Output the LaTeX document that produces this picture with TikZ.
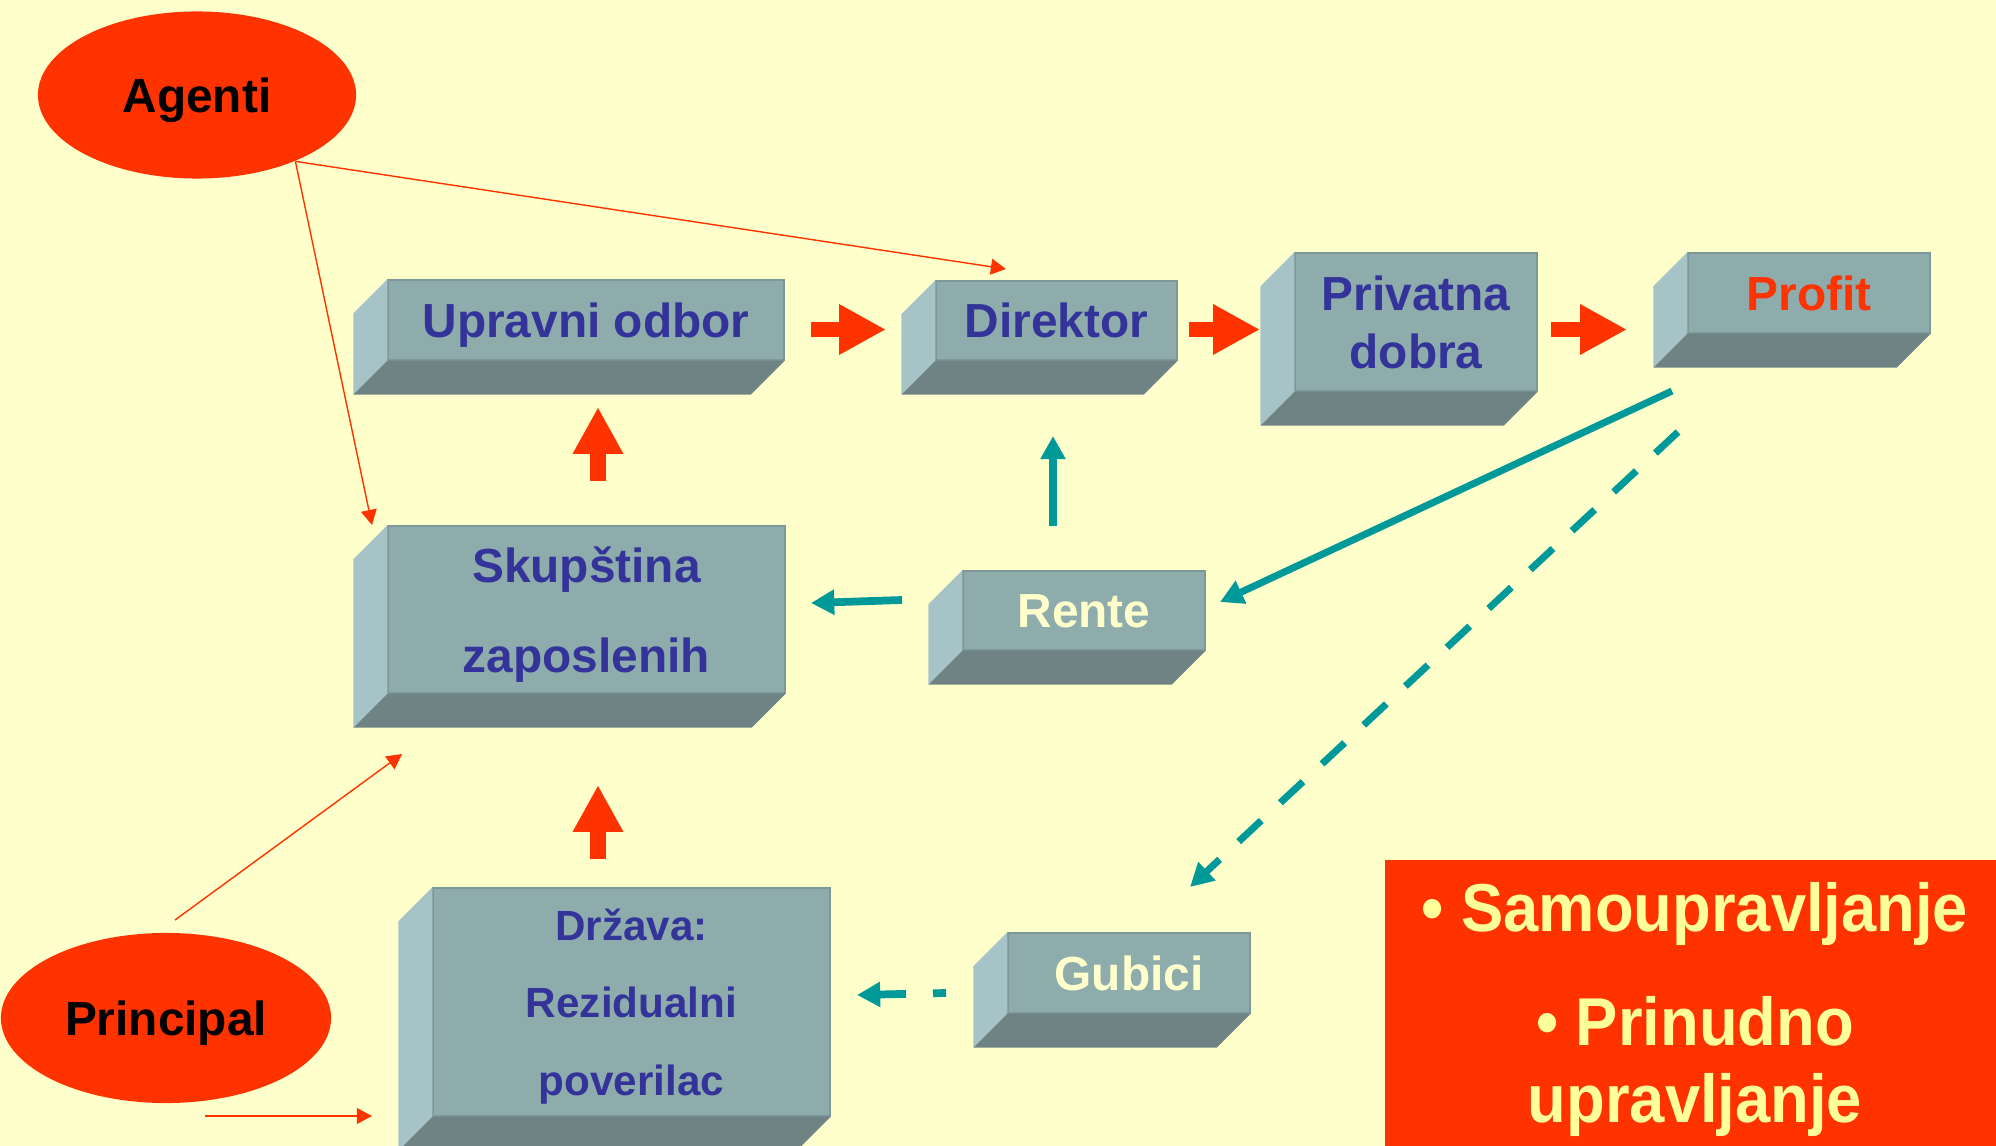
\documentclass[tikz,border=0pt]{standalone}
\usepackage{fontspec}
\setmainfont{Liberation Sans}
\usetikzlibrary{arrows.meta,shapes.geometric,calc}

\definecolor{bg}{HTML}{FFFFCC}
\definecolor{hot}{HTML}{FF3300}
\definecolor{tealline}{HTML}{009999}
\definecolor{faceF}{HTML}{8FACAD}
\definecolor{faceS}{HTML}{A6C4C8}
\definecolor{faceB}{HTML}{6F8385}
\definecolor{navytxt}{HTML}{333399}
\definecolor{creamtxt}{HTML}{FFFFCC}
\definecolor{paletxt}{HTML}{FFFF99}

\tikzset{
  frontface/.style={fill=faceF, draw=faceF!88!black, line width=0.4pt, inner sep=0pt,
    align=center, text=navytxt, font=\fontsize{13.6}{16.5}\selectfont\bfseries},
  oneline/.style={text height=9.7pt, text depth=0pt},
  sideface/.style={fill=faceS},
  bottomface/.style={fill=faceB},
  oval/.style={ellipse, fill=hot, inner sep=0pt, text=black, text height=9.7pt, text depth=0pt,
    font=\fontsize{13.6}{16}\selectfont\bfseries},
  fatarrow/.style={hot, line width=4.27pt, -{Triangle[length=13.3pt, width=13.4pt]}},
  tealarrow/.style={tealline, line width=2.2pt, -{Triangle[length=6.6pt, width=6.8pt]}},
  thinarrow/.style={hot, line width=0.4pt, -{Triangle[length=4.3pt, width=4.5pt]}},
  paneltext/.style={anchor=base, text=paletxt, inner sep=0pt,
    font=\fontsize{18}{20}\selectfont\bfseries},
}

% #1 name, #2 left, #3 top, #4 right, #5 bottom, #6 extra node options, #7 text
\newcommand\slab[7]{%
  \node[frontface, minimum width={(#4-#2)*0.01cm}, minimum height={(#5-#3)*0.01cm}, #6]
    (#1) at ({(#2+#4)/2},{(#3+#5)/2}) {#7};
  \fill[sideface] (#1.north west) -- ++(-34,34) -- ([shift={(-34,34)}]#1.south west)
    -- (#1.south west) -- cycle;
  \fill[bottomface] (#1.south west) -- ++(-34,34) -- ([shift={(-34,34)}]#1.south east)
    -- (#1.south east) -- cycle;
}

\begin{document}
\begin{tikzpicture}[x=0.01cm, y=-0.01cm]
  \useasboundingbox[fill=bg] (0,0) rectangle (1996,1146);

  % blocks
  \slab{upr}{388}{280}{784}{360}{oneline}{Upravni odbor}
  \slab{dir}{936}{281}{1177}{360}{oneline}{Direktor}
  \slab{priv}{1295}{253}{1537}{391}{}{Privatna\\dobra}
  \slab{prof}{1688}{253}{1930}{333}{oneline, text=hot}{Profit}
  \slab{skup}{388}{526}{785}{693}{text depth=0pt, font=\fontsize{13.6}{25.6}\selectfont\bfseries}{Skupština\\zaposlenih}
  \slab{rente}{963}{571}{1205}{650}{oneline, text=creamtxt}{Rente}
  \slab{drz}{433}{888}{830}{1116}{text depth=0pt, font=\fontsize{12}{22}\selectfont\bfseries}{Država:\\Rezidualni\\poverilac}
  \slab{gub}{1008}{933}{1250}{1013}{oneline, text=creamtxt}{Gubici}

  % actors
  \node[oval, minimum width=3.18cm, minimum height=1.67cm] (agenti) at (197,95) {Agenti};
  \node[oval, minimum width=3.30cm, minimum height=1.70cm] (principal) at (166,1018) {Principal};

  % governance panel
  \node[fill=hot, anchor=north west, inner sep=0pt, minimum width=6.12cm, minimum height=2.87cm]
    (panel) at (1384,859) {};
  \node[paneltext] (p1) at (1695,931) {\scalebox{1}[1.07]{• Samoupravljanje}};
  \node[paneltext] (p2) at (1695,1045) {\scalebox{1}[1.07]{• Prinudno}};
  \node[paneltext] (p3) at (1695,1122) {\scalebox{1}[1.07]{upravljanje}};

  % end points of the connectors
  \coordinate (f1a) at (811,329.5);  \coordinate (f1b) at (886,329.5);
  \coordinate (f2a) at (1189,329.5); \coordinate (f2b) at (1260,329.5);
  \coordinate (f3a) at (1551,329.5); \coordinate (f3b) at (1627,329.5);
  \coordinate (u1a) at (598,481);    \coordinate (u1b) at (598,407);
  \coordinate (u2a) at (598,859);    \coordinate (u2b) at (598,785);
  \coordinate (tua) at (1053,526);   \coordinate (tub) at (1053,436);
  \coordinate (tla) at (902,600);    \coordinate (tlb) at (811,603);
  \coordinate (tda) at (1672,391);   \coordinate (tdb) at (1220,602);
  \coordinate (tsa) at (1678,432);   \coordinate (tsb) at (1190,887);
  \coordinate (tga) at (946,993);    \coordinate (tgb) at (857,995);
  \coordinate (ad) at (1006,269);
  \coordinate (as) at (372,525);
  \coordinate (ps0) at (175,920);    \coordinate (ps) at (402,754);
  \coordinate (pd0) at (205,1116);   \coordinate (pd) at (372,1116);

  % main flow
  \draw[fatarrow] (f1a) -- (f1b);
  \draw[fatarrow] (f2a) -- (f2b);
  \draw[fatarrow] (f3a) -- (f3b);
  \draw[fatarrow] (u1a) -- (u1b);
  \draw[fatarrow] (u2a) -- (u2b);

  % distribution of the result
  \draw[tealarrow] (tua) -- (tub);
  \draw[tealarrow] (tla) -- (tlb);
  \draw[tealarrow, line width=2pt] (tda) -- (tdb);
  \draw[tealarrow, line width=2pt, dash pattern=on 8.8pt off 7.4pt] (tsa) -- (tsb);
  \draw[tealarrow, dash pattern=on 3.7pt off 7.7pt on 40pt] (tga) -- (tgb);

  % agency relations
  \draw[thinarrow] (agenti.-34.5) -- (ad);
  \draw[thinarrow] (agenti.-34.5) -- (as);
  \draw[thinarrow] (ps0) -- (ps);
  \draw[thinarrow] (pd0) -- (pd);
\end{tikzpicture}
\end{document}
